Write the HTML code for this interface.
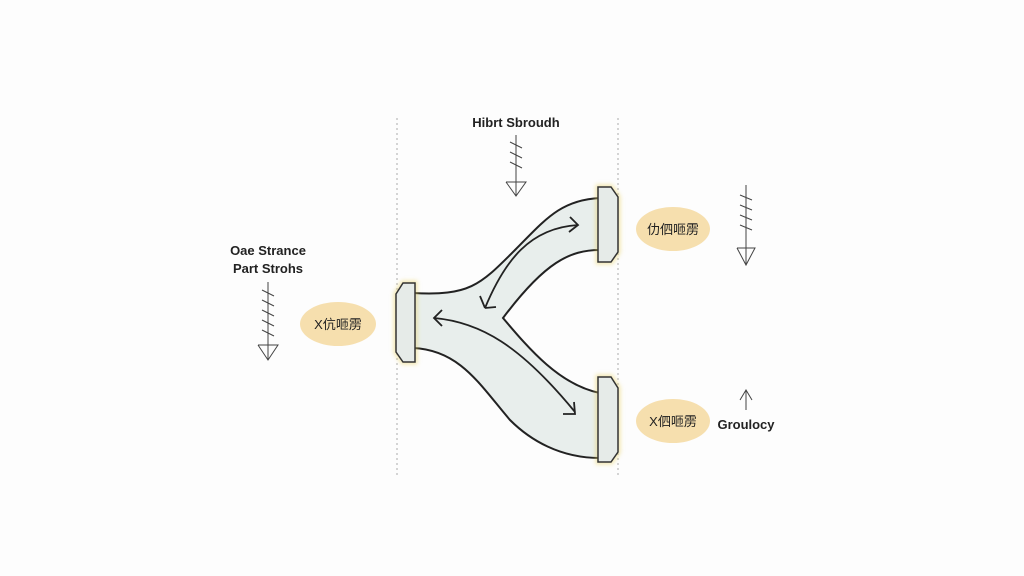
<!DOCTYPE html>
<html><head><style>
body{margin:0;background:#fdfdfd;}
svg{display:block}
text{font-family:"Liberation Sans","Noto Sans CJK SC",sans-serif;fill:#222}
</style></head><body>
<svg width="1024" height="576" viewBox="0 0 1024 576">
<rect width="1024" height="576" fill="#fdfdfd"/>
<line x1="397" y1="118" x2="397" y2="475" stroke="#aaa" stroke-dasharray="2,3"/>
<line x1="618" y1="118" x2="618" y2="475" stroke="#aaa" stroke-dasharray="2,3"/>
<defs><filter id="g"><feGaussianBlur stdDeviation="2"/></filter></defs>
<!-- Y shape -->
<path d="M413,293 C470,296 480,285 515,250 C545,220 560,200 600,198 L600,250 C570,250 545,262 503,318 C530,350 560,385 600,393 L600,458 C560,458 530,440 510,420 C480,385 460,350 413,348 Z" fill="#e8eeec" stroke="#222" stroke-width="2"/>
<!-- connector boxes -->
<g stroke="#e8d060" stroke-width="5" opacity="0.5" filter="url(#g)" fill="none">
<path d="M396,294 L403,283 L415,283 L415,362 L403,362 L396,352 Z"/>
<path d="M598,187 L611,187 L618,197 L618,252 L611,262 L598,262 Z"/>
<path d="M598,377 L611,377 L618,388 L618,452 L611,462 L598,462 Z"/>
</g>
<g fill="#e6ebe8" stroke="#333" stroke-width="1.5">
<path d="M396,294 L403,283 L415,283 L415,362 L403,362 L396,352 Z"/>
<path d="M598,187 L611,187 L618,197 L618,252 L611,262 L598,262 Z"/>
<path d="M598,377 L611,377 L618,388 L618,452 L611,462 L598,462 Z"/>
</g>
<!-- arrows -->
<g stroke="#222" stroke-width="1.8" fill="none">
<path d="M485,308 C505,260 530,228 578,225"/>
<path d="M570,217 L578,225 L569,232"/>
<path d="M485,308 L480,296 M485,308 L496,307"/>
<path d="M434,318 C480,322 520,345 575,412"/>
<path d="M442,310 L434,318 L442,326"/>
<path d="M563,414 L575,414 L574,402"/>
</g>
<!-- ovals -->
<g fill="#f6dfae"><ellipse cx="338" cy="324" rx="38" ry="22"/><ellipse cx="673" cy="229" rx="37" ry="22"/><ellipse cx="673" cy="421" rx="37" ry="22"/></g>
<text x="338" y="329" font-size="13" text-anchor="middle">X伉咂雳</text>
<text x="673" y="234" font-size="13" text-anchor="middle">仂伵咂雳</text>
<text x="673" y="426" font-size="13" text-anchor="middle">X伵咂雳</text>
<!-- labels -->
<text x="516" y="127" font-size="13" font-weight="bold" text-anchor="middle">Hibrt Sbroudh</text>
<text x="268" y="255" font-size="13" font-weight="bold" text-anchor="middle">Oae Strance</text>
<text x="268" y="273" font-size="13" font-weight="bold" text-anchor="middle">Part Strohs</text>
<text x="746" y="429" font-size="13" font-weight="bold" text-anchor="middle">Groulocy</text>
<!-- spiky arrows -->
<g stroke="#444" stroke-width="1" fill="none">
<path d="M268,282 L268,360 M262,290 L274,296 M262,300 L274,306 M262,310 L274,316 M262,320 L274,326 M262,330 L274,336 M258,345 L278,345 L268,360 L258,345"/>
<path d="M516,135 L516,196 M510,142 L522,148 M510,152 L522,158 M510,162 L522,168 M506,182 L526,182 L516,196 L506,182"/>
<path d="M746,185 L746,265 M740,195 L752,200 M740,205 L752,210 M740,215 L752,220 M740,225 L752,230 M737,248 L755,248 L746,265 L737,248"/>
<path d="M746,410 L746,390 M740,400 L746,390 L752,400"/>
</g>
</svg>
</body></html>
